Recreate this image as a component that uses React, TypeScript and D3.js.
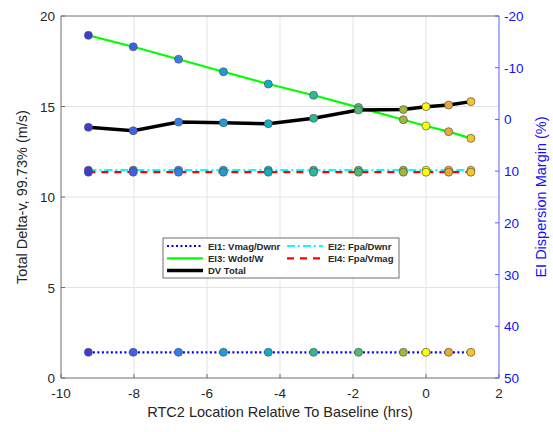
import React, { useEffect, useRef } from 'react';
import * as d3 from 'd3';

// RTC2 burn location relative to baseline (hrs)
const rtcHours = [-9.25, -8.02, -6.78, -5.55, -4.32, -3.08, -1.85, -0.62, 0, 0.62, 1.23];

// Delta-v values (m/s)
const ei1Vmag = [1.42, 1.42, 1.42, 1.42, 1.42, 1.42, 1.42, 1.42, 1.42, 1.42, 1.42];
const ei2Fpa = [11.48, 11.48, 11.48, 11.48, 11.48, 11.48, 11.48, 11.48, 11.48, 11.48, 11.48];
const ei3Wdot = [18.93, 18.3, 17.61, 16.92, 16.24, 15.62, 14.95, 14.27, 13.92, 13.61, 13.24];
const ei4FpaVmag = [11.37, 11.37, 11.37, 11.37, 11.37, 11.37, 11.37, 11.37, 11.37, 11.37, 11.37];
const dvTotal = [13.85, 13.66, 14.14, 14.1, 14.05, 14.35, 14.8, 14.83, 14.99, 15.08, 15.27];

// marker colours (parula order, baseline case drawn in the last colour)
const pointColors = ['#3e3ad6', '#3d5ff0', '#2f80ee', '#1e9bd8', '#0bafc6', '#2db89b', '#4fbb70', '#a3b736', '#ffff00', '#e9aa2f', '#f5c62b'];

const xTicks = [-10, -8, -6, -4, -2, 0, 2];
const yTicks = [0, 5, 10, 15, 20];
const rightTicks = [-20, -10, 0, 10, 20, 30, 40, 50];

const FONT = 'Liberation Sans, Arial, sans-serif';

const App = () => {
  const svgRef = useRef<SVGSVGElement>(null);

  useEffect(() => {
    const width = 553;
    const height = 432;
    const m = { left: 61, right: 499, top: 16, bottom: 378 };

    const svg = d3.select(svgRef.current);
    svg.selectAll('*').remove();
    svg.attr('width', width).attr('height', height);

    const x = d3.scaleLinear().domain([-10, 2]).range([m.left, m.right]);
    const y = d3.scaleLinear().domain([0, 20]).range([m.bottom, m.top]);
    const yR = d3.scaleLinear().domain([-20, 50]).range([m.top, m.bottom]);

    svg.append('rect').attr('width', width).attr('height', height).attr('fill', '#fff');

    // grid
    const grid = svg.append('g').attr('stroke', '#e3e3e3').attr('stroke-width', 1);
    xTicks.slice(1, -1).forEach((t) => {
      grid.append('line').attr('x1', x(t)).attr('x2', x(t)).attr('y1', m.top).attr('y2', m.bottom);
    });
    yTicks.slice(1, -1).forEach((t) => {
      grid.append('line').attr('x1', m.left).attr('x2', m.right).attr('y1', y(t)).attr('y2', y(t));
    });

    // axes box
    const axCol = '#6e6e6e';
    svg.append('line').attr('x1', m.left).attr('x2', m.right).attr('y1', m.top).attr('y2', m.top).attr('stroke', axCol);
    svg.append('line').attr('x1', m.left).attr('x2', m.right).attr('y1', m.bottom).attr('y2', m.bottom).attr('stroke', axCol);
    svg.append('line').attr('x1', m.left).attr('x2', m.left).attr('y1', m.top).attr('y2', m.bottom).attr('stroke', axCol);

    const txtCol = '#262626';
    xTicks.forEach((t) => {
      svg.append('line').attr('x1', x(t)).attr('x2', x(t)).attr('y1', m.bottom).attr('y2', m.bottom - 4).attr('stroke', axCol);
      svg.append('text').attr('x', x(t)).attr('y', m.bottom + 20).attr('text-anchor', 'middle')
        .attr('font-family', FONT).attr('font-size', 13.5).attr('fill', txtCol).text(t);
    });
    yTicks.forEach((t) => {
      svg.append('line').attr('x1', m.left).attr('x2', m.left + 4).attr('y1', y(t)).attr('y2', y(t)).attr('stroke', axCol);
      svg.append('text').attr('x', m.left - 6).attr('y', y(t) + 5).attr('text-anchor', 'end')
        .attr('font-family', FONT).attr('font-size', 13.5).attr('fill', txtCol).text(t);
    });

    // right axis (blue)
    const rCol = '#5c5cff';
    svg.append('line').attr('x1', m.right).attr('x2', m.right).attr('y1', m.top).attr('y2', m.bottom).attr('stroke', rCol);
    rightTicks.forEach((t) => {
      svg.append('line').attr('x1', m.right).attr('x2', m.right - 4).attr('y1', yR(t)).attr('y2', yR(t)).attr('stroke', rCol);
      svg.append('text').attr('x', m.right + 5).attr('y', yR(t) + 5).attr('text-anchor', 'start')
        .attr('font-family', FONT).attr('font-size', 13.5).attr('fill', '#1010ff').text(t);
    });

    // axis labels
    svg.append('text').attr('x', (m.left + m.right) / 2).attr('y', 417).attr('text-anchor', 'middle')
      .attr('font-family', FONT).attr('font-size', 14.5).attr('fill', txtCol)
      .text('RTC2 Location Relative To Baseline (hrs)');
    svg.append('text').attr('transform', `translate(27,${(m.top + m.bottom) / 2}) rotate(-90)`).attr('text-anchor', 'middle')
      .attr('font-family', FONT).attr('font-size', 14.5).attr('fill', txtCol)
      .text('Total Delta-v, 99.73% (m/s)');
    svg.append('text').attr('transform', `translate(546,${(m.top + m.bottom) / 2}) rotate(-90)`).attr('text-anchor', 'middle')
      .attr('font-family', FONT).attr('font-size', 14.5).attr('fill', '#1010ff')
      .text('EI Dispersion Margin (%)');

    const series = [
      { name: 'EI1: Vmag/Dwnr', values: ei1Vmag, color: '#0000ff', width: 2.2, dash: '2,2.5' },
      { name: 'EI2: Fpa/Dwnr', values: ei2Fpa, color: '#00ffff', width: 2.2, dash: '8,3,2,3' },
      { name: 'EI3: Wdot/W', values: ei3Wdot, color: '#00ff00', width: 2.2, dash: null },
      { name: 'EI4: Fpa/Vmag', values: ei4FpaVmag, color: '#ff0000', width: 2.2, dash: '7,6' },
      { name: 'DV Total', values: dvTotal, color: '#000000', width: 3.5, dash: null },
    ];

    const line = d3.line<number>().x((_, i) => x(rtcHours[i])).y((d) => y(d));

    series.forEach((s) => {
      svg.append('path').attr('d', line(s.values)).attr('fill', 'none')
        .attr('stroke', s.color).attr('stroke-width', s.width)
        .attr('stroke-dasharray', s.dash || null);
    });
    series.forEach((s) => {
      svg.append('g').selectAll('circle').data(s.values).enter().append('circle')
        .attr('cx', (_, i) => x(rtcHours[i])).attr('cy', (d) => y(d)).attr('r', 4)
        .attr('fill', (_, i) => pointColors[i]).attr('stroke', '#555').attr('stroke-width', 0.7);
    });

    // legend
    const lg = svg.append('g').attr('transform', 'translate(163,238)');
    lg.append('rect').attr('width', 236).attr('height', 40).attr('fill', '#fff').attr('stroke', '#6e6e6e');
    const slots = [
      [0, 0], [1, 0], [0, 1], [1, 1], [0, 2],
    ];
    const order = [0, 1, 2, 3, 4];
    order.forEach((si, k) => {
      const s = series[si];
      const [col, row] = slots[k];
      const ox = col === 0 ? 4 : 124;
      const oy = 8 + row * 12.3;
      lg.append('line').attr('x1', ox).attr('x2', ox + 36).attr('y1', oy).attr('y2', oy)
        .attr('stroke', s.color).attr('stroke-width', s.width)
        .attr('stroke-dasharray', s.dash || null);
      lg.append('text').attr('x', ox + 41).attr('y', oy + 3.5)
        .attr('font-family', FONT).attr('font-size', 9.5).attr('font-weight', 'bold').attr('fill', txtCol)
        .text(s.name);
    });
  }, []);

  return (
    <div style={{ position: 'absolute', left: 0, top: 0 }}>
      <svg ref={svgRef}></svg>
    </div>
  );
};

export default App;
